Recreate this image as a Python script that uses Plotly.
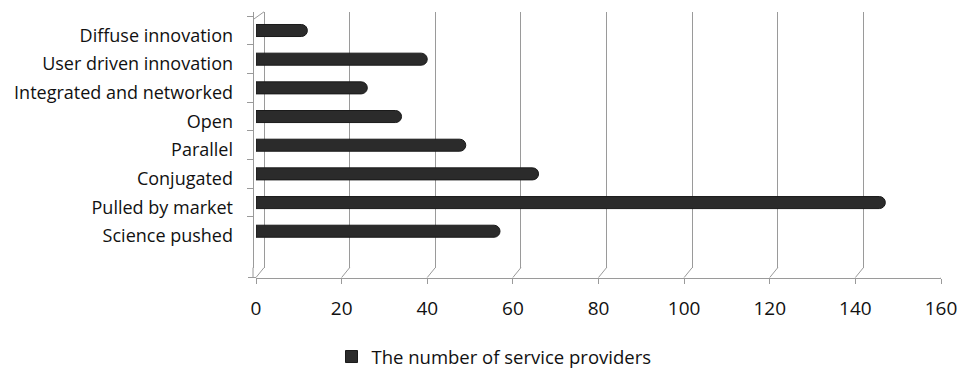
import plotly.graph_objects as go

categories = ["Diffuse innovation", "User driven innovation", "Integrated and networked",
              "Open", "Parallel", "Conjugated", "Pulled by market", "Science pushed"]
values = [12, 40, 26, 34, 49, 66, 147, 57]
series_name = "The number of service providers"
x_ticks = [0, 20, 40, 60, 80, 100, 120, 140, 160]

W, H = 958, 376
FONT = "Open Sans"
GRID = "#9a9a9a"
BAR = "#2b2b2b"

def px_x(p):
    return p / W

def px_y(p):
    return 1 - p / H

x_dom = [px_x(256), px_x(941)]
y_dom = [px_y(272), px_y(12)]
unit = (941 - 256) / 160.0
shift = 8 / unit

fig = go.Figure()
fig.add_trace(go.Bar(
    x=values, y=categories, orientation="h", name=series_name,
    marker=dict(color=BAR, line=dict(color="#1a1a1a", width=1), cornerradius=6),
    width=0.42, xaxis="x", yaxis="y", showlegend=False,
))
# legend entry (square symbol)
fig.add_trace(go.Bar(
    x=[None], y=[categories[0]], orientation="h", name=series_name,
    marker=dict(color=BAR, line=dict(color="#1a1a1a", width=1)),
    xaxis="x", yaxis="y", showlegend=True,
))
# invisible helper trace for back-wall grid axis and label axis
fig.add_trace(go.Scatter(
    x=[None] * len(categories), y=categories, mode="markers",
    xaxis="x2", yaxis="y2", showlegend=False, hoverinfo="skip",
))

shapes = []
floor_y = px_y(282)
wall_bottom = px_y(272)
for t in x_ticks:
    shapes.append(dict(type="line", xref="x", yref="paper", x0=t, y0=floor_y,
                       x1=t + shift, y1=wall_bottom, line=dict(color=GRID, width=1)))
shapes.append(dict(type="line", xref="paper", yref="paper", x0=px_x(248), y0=floor_y,
                   x1=px_x(256), y1=floor_y, line=dict(color=GRID, width=1)))
shapes.append(dict(type="line", xref="paper", yref="paper", x0=px_x(253), y0=wall_bottom,
                   x1=px_x(253), y1=floor_y, line=dict(color=GRID, width=1)))
shapes.append(dict(type="line", xref="paper", yref="paper", x0=px_x(253), y0=px_y(20),
                   x1=px_x(264), y1=px_y(12), line=dict(color=GRID, width=1)))

fig.update_layout(
    width=W, height=H,
    margin=dict(l=0, r=0, t=0, b=0, pad=0),
    paper_bgcolor="white", plot_bgcolor="rgba(0,0,0,0)",
    font=dict(family=FONT, color="#111111", size=18),
    barmode="overlay",
    xaxis=dict(domain=x_dom, range=[0, 160], anchor="free", position=floor_y,
               tickvals=x_ticks, ticks="outside", ticklen=5, tickcolor=GRID,
               showline=True, linecolor=GRID, linewidth=1, showgrid=False, zeroline=False,
               tickfont=dict(size=19, family=FONT, color="#111111"), automargin=False,
               ticklabelstandoff=9),
    xaxis2=dict(domain=x_dom, range=[-shift, 160 - shift], overlaying="x", anchor="y",
                tickvals=x_ticks, showticklabels=False, ticks="", showgrid=True,
                gridcolor=GRID, gridwidth=1, zeroline=False, showline=False, automargin=False),
    yaxis=dict(domain=y_dom, type="category", categoryarray=categories,
               range=[(272 - 31) / 29.14, (12 - 31) / 29.14],
               anchor="free", position=px_x(253), showticklabels=False,
               ticks="outside", ticklen=6, tickcolor=GRID, tickson="boundaries",
               showline=True, linecolor=GRID, showgrid=False, zeroline=False, automargin=False),
    yaxis2=dict(domain=y_dom, type="category", categoryarray=categories, overlaying="y",
                range=[(272 - 36) / 29.14, (12 - 36) / 29.14],
                anchor="free", position=px_x(253), side="left", ticks="",
                ticklabelstandoff=20, showgrid=False, zeroline=False, showline=False,
                tickfont=dict(size=18, family=FONT, color="#111111"), automargin=False),
    legend=dict(orientation="h", x=0.5 + 15 / W, xanchor="center", y=px_y(363), yanchor="middle",
                font=dict(size=18.5, family=FONT, color="#111111"), itemwidth=30,
                bgcolor="rgba(0,0,0,0)"),
    shapes=shapes,
)

fig.write_html("out.html")
